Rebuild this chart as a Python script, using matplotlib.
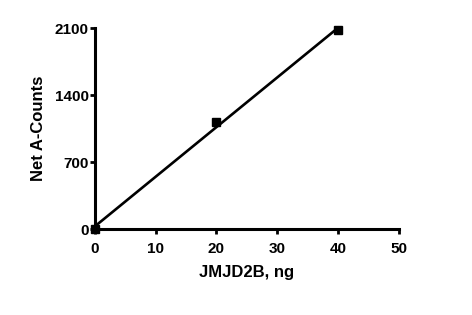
import numpy as np
import matplotlib
matplotlib.use("Agg")
import matplotlib.pyplot as plt

plt.rcParams['font.family'] = ['Liberation Sans', 'DejaVu Sans']
plt.rcParams['font.weight'] = 'bold'

enzyme_ng = [0, 20, 40]
net_counts = [0, 1120, 2075]

x_ticks = [0, 10, 20, 30, 40, 50]
y_ticks = [0, 700, 1400, 2100]

fig = plt.figure(figsize=(4.72, 3.15), dpi=100)
ax = fig.add_axes([0.201, 0.273, 0.644, 0.638])

# linear fit over the measured range
slope, intercept = np.polyfit(enzyme_ng, net_counts, 1)
xfit = np.array([min(enzyme_ng), max(enzyme_ng)])
ax.plot(xfit, slope * xfit + intercept, color='black', lw=1.9, clip_on=False)
ax.plot(enzyme_ng, net_counts, 's', color='black', ms=5.2, clip_on=False)

ax.set_xlim(0, 50)
ax.set_ylim(0, 2100)
ax.set_xticks(x_ticks)
ax.set_yticks(y_ticks)

for side in ['top', 'right']:
    ax.spines[side].set_visible(False)
for side in ['left', 'bottom']:
    ax.spines[side].set_linewidth(2.2)

ax.tick_params(axis='x', width=2, length=3.5, labelsize=11, pad=5.5)
ax.tick_params(axis='y', width=2, length=3.5, labelsize=11, pad=1)
for lab in ax.get_xticklabels() + ax.get_yticklabels():
    lab.set_fontweight('bold')

ax.set_xlabel('JMJD2B, ng', fontsize=12, fontweight='bold', labelpad=7)
ax.set_ylabel('Net A-Counts', fontsize=12, fontweight='bold', labelpad=6)

fig.savefig('out.png', dpi=100)
